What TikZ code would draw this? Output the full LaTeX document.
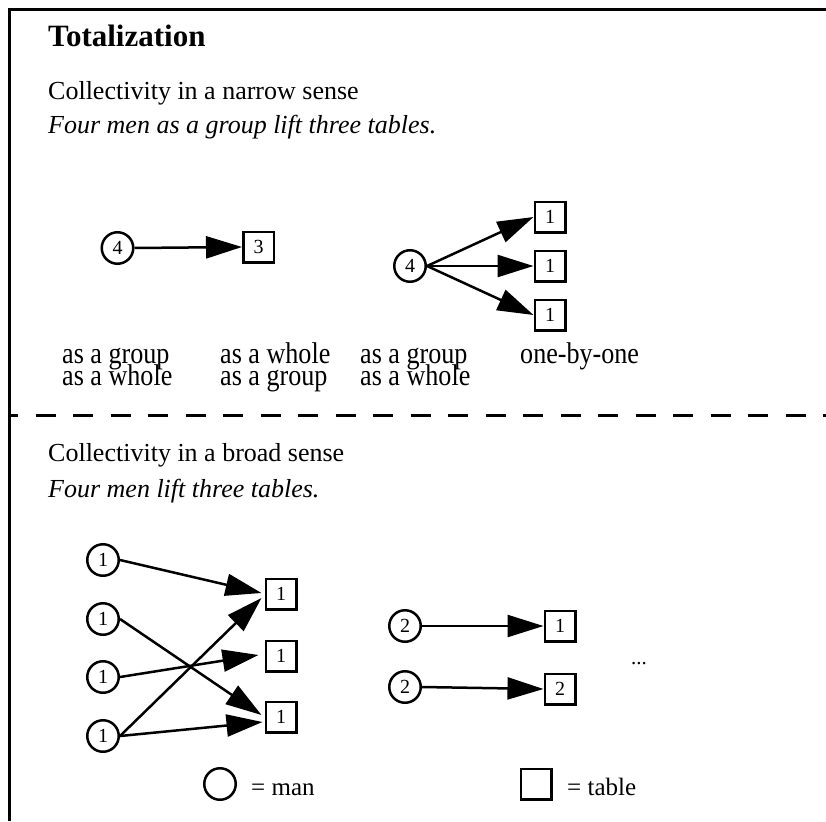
\documentclass[tikz,border=0pt]{standalone}
\usepackage{fontspec}
\setmainfont{Liberation Serif}
\newfontfamily\condfont[FakeStretch=0.87]{Liberation Serif}
\usetikzlibrary{arrows.meta,calc}
\tikzset{
  man/.style={circle, draw, line width=2.5pt, minimum size=31.5pt, inner sep=0pt, font=\fontsize{20}{20}\selectfont},
  tbl/.style={rectangle, draw, line width=2.5pt, minimum size=30.5pt, inner sep=0pt, font=\fontsize{20}{20}\selectfont},
  arr/.style={line width=2.5pt, -{Triangle[length=36pt,width=22pt]}},
  lbl/.style={anchor=base west, inner sep=0pt, font=\condfont\fontsize{30}{22}\selectfont},
  txt/.style={anchor=base west, inner sep=0pt, font=\fontsize{26}{30}\selectfont},
  frame/.style={line width=3pt}
}
\begin{document}
\begin{tikzpicture}[x=1pt,y=-1pt]
\useasboundingbox (0,0) rectangle (826,821);
% frame
\draw[frame] (9,821) -- (9,10) -- (826,10);
\draw[frame, dash pattern=on 20pt off 17.5pt, dash phase=11pt] (9,415) -- (826,415);

% texts
\node[txt, font=\bfseries\fontsize{31}{34}\selectfont] (title) at (48,47) {Totalization};
\node[txt] (narrow) at (48,100) {Collectivity in a narrow sense};
\node[txt, font=\itshape\fontsize{26}{30}\selectfont] (ex1) at (48,134) {Four men as a group lift three tables.};
\node[txt] (broad) at (48,461) {Collectivity in a broad sense};
\node[txt, font=\itshape\fontsize{26}{30}\selectfont] (ex2) at (48,497) {Four men lift three tables.};

% upper left
\node[man] (m4a) at (117.5,248) {4};
\node[tbl] (t3) at (258.5,247) {3};
\draw[arr] (m4a.east) -- (t3.west);

% upper right
\node[man] (m4b) at (410,266) {4};
\node[tbl] (t1a) at (550,217) {1};
\node[tbl] (t1b) at (550,266) {1};
\node[tbl] (t1c) at (550,315) {1};
\draw[arr] (m4b.east) -- (t1a.west);
\draw[arr] (m4b.east) -- (t1b.west);
\draw[arr] (m4b.east) -- (t1c.west);

% labels
\node[lbl] (l1a) at (62,363) {as a group};
\node[lbl] (l1b) at (62,385) {as a whole};
\node[lbl] (l2a) at (220,363) {as a whole};
\node[lbl] (l2b) at (220,385) {as a group};
\node[lbl] (l3a) at (360,363) {as a group};
\node[lbl] (l3b) at (360,385) {as a whole};
\node[lbl] (l4a) at (520,363) {one-by-one};

% lower left
\node[man] (c1) at (103,560) {1};
\node[man] (c2) at (103,619) {1};
\node[man] (c3) at (103,677) {1};
\node[man] (c4) at (103,736) {1};
\node[tbl] (b1) at (281,594) {1};
\node[tbl] (b2) at (281,656) {1};
\node[tbl] (b3) at (281,717) {1};
\coordinate (e1) at ($(b1.west)+(-3,-1)$);
\coordinate (e4) at ($(b1.west)+(-3,4)$);
\coordinate (e3) at ($(b2.west)+(-6,-1)$);
\coordinate (e2) at ($(b3.west)+(-3,-2)$);
\coordinate (e5) at ($(b3.west)+(-2,5)$);
\draw[arr] (c1.east) -- (e1);
\draw[arr] (c2.east) -- (e2);
\draw[arr] (c3.east) -- (e3);
\draw[arr] (c4.east) -- (e4);
\draw[arr] (c4.east) -- (e5);

% lower right
\node[man] (d1) at (405,626) {2};
\node[man] (d2) at (405,687) {2};
\node[tbl] (f1) at (560,626) {1};
\node[tbl] (f2) at (560,689) {2};
\draw[arr] (d1.east) -- (f1.west);
\draw[arr] (d2.east) -- (f2.west);
\node[txt, font=\fontsize{21}{21}\selectfont] (dots) at (631,664) {...};

% legend
\node[man] (lman) at (220,784) {};
\node[txt, font=\fontsize{25}{25}\selectfont] (lmantxt) at (251,795) {= man};
\node[tbl] (ltbl) at (536,784) {};
\node[txt, font=\fontsize{25}{25}\selectfont] (ltbltxt) at (567,795) {= table};
\end{tikzpicture}
\end{document}
